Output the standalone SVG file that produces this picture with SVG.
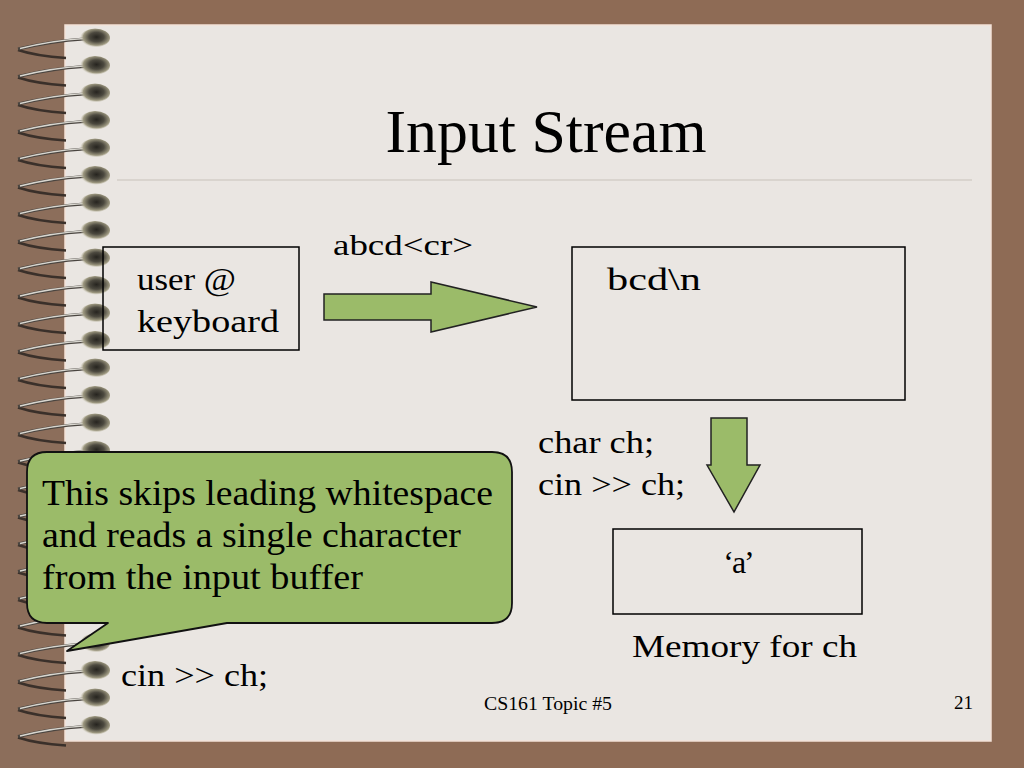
<svg xmlns="http://www.w3.org/2000/svg" xmlns:xlink="http://www.w3.org/1999/xlink" width="1024" height="768" viewBox="0 0 1024 768">
<style>
.t{font-family:"Liberation Serif","Times New Roman",serif;fill:#000}
.box{fill:none;stroke:#000;stroke-width:1.5}
.arrow{fill:#9bbb69;stroke:#222;stroke-width:1.5}
</style>
<defs>
<radialGradient id="bead" cx="0.55" cy="0.45" r="0.55">
<stop offset="0" stop-color="#26241f"/>
<stop offset="0.45" stop-color="#4c493f"/>
<stop offset="0.8" stop-color="#9d9880"/>
<stop offset="1" stop-color="#d6d2c0" stop-opacity="0"/>
</radialGradient>
<g id="coil">
<path d="M18 12 Q36 18 66 20" fill="none" stroke="#3a302a" stroke-width="2.5"/>
<path d="M84 1 Q52 3 18 11" fill="none" stroke="#4a4540" stroke-width="3"/>
<path d="M84 0.5 Q52 2.5 20 10.5" fill="none" stroke="#d8d6cf" stroke-width="1.3"/>
<ellipse cx="95" cy="0" rx="15" ry="9.5" fill="url(#bead)"/>
</g>
</defs>
<rect x="0" y="0" width="1024" height="768" fill="#8e6b55"/>
<rect x="0" y="0" width="140" height="768" fill="#8c6e5b"/>
<rect x="65" y="25" width="926" height="716" fill="#eae6e2" stroke="#f3e2d8" stroke-width="1.5"/>
<g id="binding">
<use xlink:href="#coil" y="38"/><use xlink:href="#coil" y="65.5"/><use xlink:href="#coil" y="93"/><use xlink:href="#coil" y="120.5"/>
<use xlink:href="#coil" y="148"/><use xlink:href="#coil" y="175.5"/><use xlink:href="#coil" y="203"/><use xlink:href="#coil" y="230.5"/>
<use xlink:href="#coil" y="258"/><use xlink:href="#coil" y="285.5"/><use xlink:href="#coil" y="313"/><use xlink:href="#coil" y="340.5"/>
<use xlink:href="#coil" y="368"/><use xlink:href="#coil" y="395.5"/><use xlink:href="#coil" y="423"/><use xlink:href="#coil" y="450.5"/>
<use xlink:href="#coil" y="478"/><use xlink:href="#coil" y="505.5"/><use xlink:href="#coil" y="533"/><use xlink:href="#coil" y="560.5"/>
<use xlink:href="#coil" y="588"/><use xlink:href="#coil" y="615.5"/><use xlink:href="#coil" y="643"/><use xlink:href="#coil" y="670.5"/>
<use xlink:href="#coil" y="698"/><use xlink:href="#coil" y="725.5"/>
</g>
<line x1="117" y1="180" x2="972" y2="180" stroke="#d3cec7" stroke-width="1.5"/>
<text class="t" x="546" y="152" font-size="62" text-anchor="middle" textLength="321" lengthAdjust="spacingAndGlyphs">Input Stream</text>

<g id="connectors">
<path class="arrow" d="M324 294 L431 294 L431 282 L537 307 L431 332 L431 320 L324 320 Z"/>
<path class="arrow" d="M711 418 L747 418 L747 465 L760 465 L734 512 L707 465 L711 465 Z"/>
<text class="t" x="333" y="255" font-size="30" textLength="140" lengthAdjust="spacingAndGlyphs">abcd&lt;cr&gt;</text>
</g>

<g id="keyboard">
<rect class="box" x="103" y="247" width="196" height="103"/>
<text class="t" x="137" y="290" font-size="32" textLength="99" lengthAdjust="spacingAndGlyphs">user @</text>
<text class="t" x="137" y="332" font-size="32" textLength="142" lengthAdjust="spacingAndGlyphs">keyboard</text>
</g>

<g id="buffer">
<rect class="box" x="572" y="247" width="333" height="153"/>
<text class="t" x="607" y="290" font-size="32" textLength="94" lengthAdjust="spacingAndGlyphs">bcd\n</text>
</g>

<g id="code">
<text class="t" x="538" y="453" font-size="32" textLength="116" lengthAdjust="spacingAndGlyphs">char ch;</text>
<text class="t" x="538" y="495" font-size="32" textLength="147" lengthAdjust="spacingAndGlyphs">cin &gt;&gt; ch;</text>
</g>

<g id="memory">
<rect class="box" x="613" y="529" width="249" height="85"/>
<text class="t" x="738" y="573" font-size="32" text-anchor="middle" letter-spacing="-2">‘a’</text>
<text class="t" x="632" y="657" font-size="32" textLength="225" lengthAdjust="spacingAndGlyphs">Memory for ch</text>
</g>

<g id="callout">
<path d="M47 452 L492 452 Q512 452 512 472 L512 603 Q512 623 492 623 L227 623 L67 651 L108 623 L47 623 Q27 623 27 603 L27 472 Q27 452 47 452 Z" fill="#9bbb69" stroke="#111" stroke-width="1.8" stroke-linejoin="round"/>
<text class="t" x="42" y="505" font-size="35" textLength="451" lengthAdjust="spacingAndGlyphs">This skips leading whitespace</text>
<text class="t" x="42" y="547" font-size="35" textLength="419" lengthAdjust="spacingAndGlyphs">and reads a single character</text>
<text class="t" x="42" y="589" font-size="35" textLength="321" lengthAdjust="spacingAndGlyphs">from the input buffer</text>
</g>

<g id="statement">
<text class="t" x="121" y="686" font-size="32" textLength="147" lengthAdjust="spacingAndGlyphs">cin &gt;&gt; ch;</text>
</g>

<g id="footer">
<text class="t" x="548" y="710" font-size="19" text-anchor="middle" textLength="128" lengthAdjust="spacingAndGlyphs">CS161 Topic #5</text>
<text class="t" x="973" y="709" font-size="19" text-anchor="end">21</text>
</g>
</svg>
